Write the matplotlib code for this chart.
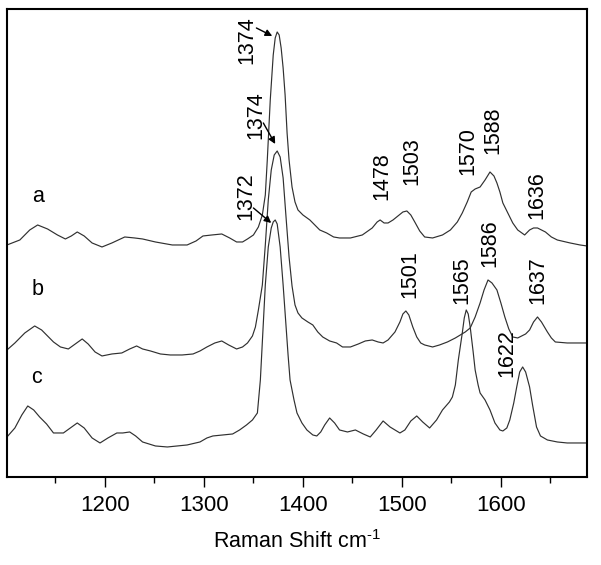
import matplotlib
matplotlib.use("Agg")
import matplotlib.pyplot as plt
from matplotlib.ticker import MultipleLocator

plt.rcParams["font.family"] = ["Liberation Sans", "DejaVu Sans"]
plt.rcParams["mathtext.fontset"] = "custom"
plt.rcParams["mathtext.rm"] = "Liberation Sans"
plt.rcParams["mathtext.it"] = "Liberation Sans"
plt.rcParams["axes.unicode_minus"] = False

# spectrum a (intensity above its own baseline, arb. units)
shift_a = [1101, 1114, 1124, 1132, 1142, 1152, 1160, 1166, 1172, 1179, 1187, 1197,
           1207, 1220, 1230, 1238, 1251, 1268, 1283, 1292, 1299, 1308, 1318, 1326,
           1333, 1339, 1344, 1350, 1355, 1359, 1362, 1364, 1367, 1370, 1372, 1374,
           1376, 1378, 1380, 1382, 1384, 1386, 1389, 1392, 1395, 1400, 1407, 1417, 1424,
           1431, 1437, 1448, 1460, 1470, 1475, 1478, 1482, 1486, 1491, 1496, 1501,
           1505, 1509, 1513, 1518, 1523, 1531, 1541, 1549, 1556, 1561, 1566, 1570,
           1574, 1579, 1584, 1589, 1593, 1596, 1599, 1602, 1607, 1612, 1617, 1624,
           1629, 1633, 1637, 1641, 1645, 1651, 1657, 1670, 1680, 1687]
int_a = [1, 6, 16, 21, 17, 11, 7, 10, 14, 10, 3, -1,
         3, 9, 8, 7, 4, 1, 1, 5, 10, 11, 12, 8,
         4, 4, 7, 11, 19, 31, 51, 86, 146, 191, 208, 214,
         211, 198, 178, 151, 113, 86, 59, 44, 36, 31, 26, 16, 13,
         9, 8, 8, 11, 18, 24, 26, 23, 23, 26, 30, 34,
         35, 31, 24, 15, 9, 8, 11, 16, 24, 33, 44, 54,
         57, 59, 66, 74, 70, 63, 54, 43, 33, 23, 16, 11,
         16, 18, 18, 16, 14, 9, 6, 3, 1, 0]

# spectrum b
shift_b = [1101, 1109, 1119, 1129, 1136, 1148, 1155, 1163, 1170, 1177, 1183, 1190,
           1197, 1207, 1217, 1225, 1232, 1238, 1246, 1256, 1266, 1278, 1289, 1296,
           1303, 1311, 1318, 1325, 1333, 1339, 1344, 1349, 1352, 1355, 1359, 1362,
           1365, 1368, 1371, 1374, 1377, 1380, 1383, 1386, 1389, 1392, 1395, 1399, 1405,
           1410, 1415, 1420, 1427, 1434, 1440, 1448, 1456, 1463, 1470, 1476, 1481,
           1486, 1493, 1498, 1501, 1504, 1507, 1511, 1515, 1519, 1523, 1531, 1538,
           1546, 1554, 1559, 1564, 1569, 1574, 1579, 1583, 1587, 1591, 1596, 1600,
           1604, 1608, 1612, 1617, 1621, 1625, 1629, 1633, 1637, 1641, 1647, 1651,
           1655, 1667, 1687]
int_b = [-7, 0, 10, 17, 13, 1, -4, -6, -1, 4, -1, -9,
         -13, -11, -10, -6, -3, -6, -8, -11, -12, -12, -11, -8,
         -4, 0, 2, -2, -6, -4, 0, 7, 16, 33, 58, 98,
         143, 173, 188, 192, 186, 165, 125, 86, 57, 38, 30, 25, 21,
         18, 11, 6, 2, 0, -4, -4, -1, 2, 3, 1, 0,
         3, 11, 21, 29, 32, 28, 16, 6, 0, -2, -4, -2,
         1, 5, 8, 11, 15, 26, 40, 53, 63, 60, 53, 40,
         26, 14, 6, 5, 7, 9, 13, 21, 26, 21, 11, 5,
         1, 0, 0]

# spectrum c
shift_c = [1101, 1109, 1116, 1122, 1128, 1134, 1141, 1148, 1158, 1165, 1172, 1179,
           1187, 1195, 1203, 1212, 1218, 1225, 1231, 1238, 1251, 1263, 1273, 1283,
           1296, 1303, 1309, 1319, 1329, 1336, 1343, 1349, 1354, 1357, 1360, 1362,
           1365, 1368, 1370, 1372, 1374, 1377, 1380, 1382, 1385, 1387, 1391, 1394, 1399,
           1404, 1410, 1414, 1418, 1422, 1427, 1432, 1437, 1445, 1453, 1461, 1468,
           1474, 1481, 1488, 1498, 1503, 1509, 1515, 1521, 1528, 1535, 1541, 1548,
           1551, 1554, 1557, 1561, 1563, 1565, 1567, 1569, 1572, 1574, 1577, 1579,
           1584, 1589, 1594, 1599, 1602, 1606, 1609, 1613, 1616, 1619, 1622, 1625,
           1629, 1632, 1636, 1640, 1647, 1657, 1667, 1687]
int_c = [6, 15, 28, 37, 33, 26, 19, 10, 10, 15, 20, 15,
         5, 0, 5, 10, 10, 11, 7, 1, -3, -4, -3, -2,
         1, 5, 7, 8, 9, 13, 18, 23, 30, 63, 120, 158,
         196, 215, 221, 223, 219, 196, 158, 130, 88, 63, 43, 30, 20,
         13, 8, 7, 11, 18, 25, 20, 13, 11, 13, 9, 6,
         13, 22, 16, 10, 13, 22, 27, 21, 15, 23, 33, 41,
         46, 58, 83, 110, 125, 133, 129, 116, 91, 73, 58, 50,
         43, 33, 20, 13, 12, 15, 23, 40, 56, 71, 76, 71,
         56, 38, 16, 7, 3, 1, 0, 0]

curve_names = ["a", "b", "c"]

# peak labels: (text, x, y) in data coords of the stacked plot
peak_labels = [
    ("1478", 1480, 301), ("1503", 1510, 316), ("1570", 1567, 326),
    ("1588", 1592, 347), ("1636", 1636, 282),
    ("1501", 1508, 203), ("1565", 1561, 197), ("1586", 1589, 234),
    ("1637", 1637, 197), ("1622", 1606, 124),
]
# labels with arrows: (text, text x, text y, arrow start, arrow tip)
arrow_labels = [
    ("1374", 1343, 437, (1353, 449), (1369, 441)),
    ("1374", 1352, 362, (1360, 354), (1372, 333)),
    ("1372", 1342, 281, (1350, 269), (1368, 254)),
]

offsets = [231, 134, 34]
name_pos = [(1132, 280), (1132, 187), (1131, 99)]

fig = plt.figure(figsize=(6.01, 5.65), dpi=100)
ax = fig.add_axes([0.0116, 0.1558, 0.9651, 0.8283])

for (x, y), off in zip([(shift_a, int_a), (shift_b, int_b), (shift_c, int_c)], offsets):
    ax.plot(x, [v + off for v in y], color="#303030", lw=0.85)

for name, (tx, ty) in zip(curve_names, name_pos):
    ax.text(tx, ty, name, fontsize=15.5, ha="center", va="center")

for txt, tx, ty in peak_labels:
    ax.text(tx, ty, txt, fontsize=15.5, rotation=90, ha="center", va="center")

for txt, tx, ty, start, tip in arrow_labels:
    ax.text(tx, ty, txt, fontsize=15.5, rotation=90, ha="center", va="center")
    ax.annotate("", xy=tip, xytext=start,
                arrowprops=dict(arrowstyle="-|>", color="black", lw=1,
                                mutation_scale=10, shrinkA=0, shrinkB=0))

ax.set_xlim(1101, 1687)
ax.set_ylim(0, 468)
ax.xaxis.set_major_locator(MultipleLocator(100))
ax.xaxis.set_minor_locator(MultipleLocator(50))
ax.tick_params(axis="x", which="major", direction="out", length=7, width=1, labelsize=16, pad=6)
ax.tick_params(axis="x", which="minor", direction="out", length=4.5, width=1)
ax.set_yticks([])
for sp in ax.spines.values():
    sp.set_linewidth(1.5)
ax.set_xlabel(r"Raman Shift cm$^{\text{-}1}$", fontsize=15.5, labelpad=10)

fig.savefig("out.png", dpi=100)
